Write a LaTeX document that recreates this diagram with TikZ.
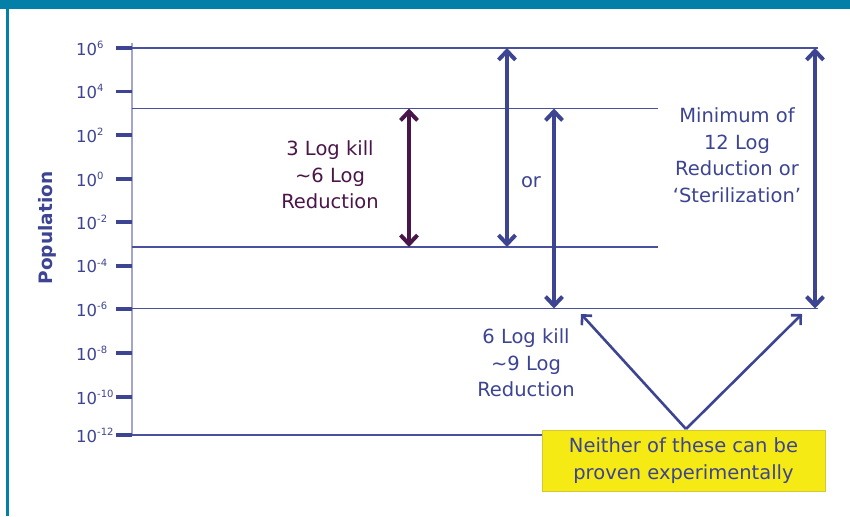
\documentclass[tikz,border=0pt]{standalone}
\usepackage{fontspec}
\setmainfont{DejaVu Sans}
\usetikzlibrary{arrows.meta,calc}
\definecolor{teal1}{HTML}{0480A8}
\definecolor{bl}{HTML}{3D4491}
\definecolor{bline}{HTML}{4B509C}
\definecolor{axisc}{HTML}{A3A5CF}
\definecolor{purp}{HTML}{4A1548}
\definecolor{yel}{HTML}{F5EA14}
\begin{document}
\begin{tikzpicture}[x=1pt,y=-1pt,
  level/.style={draw=bline,line width=1.1pt},
  tick/.style={draw=bl,line width=3.4pt},
  ticklab/.style={anchor=west,inner sep=0pt,text=bl,font=\fontsize{16.5}{18}\selectfont},
  bigarrow/.style={line width=4pt,{Straight Barb[length=9pt,width=17pt]}-{Straight Barb[length=9pt,width=17pt]}},
  diagarrow/.style={draw=bl,line width=2.6pt,-{Straight Barb[length=7pt,width=14pt]}},
  lab/.style={align=center,inner sep=0pt,font=\fontsize{19.5}{26.5}\selectfont}
]
\useasboundingbox (0,0) rectangle (850,516);
% frame
\fill[teal1] (0,0) rectangle (850,9);
\draw[teal1,line width=2.6pt] (7.3,9) -- (7.3,516);

% axis
\coordinate (atop) at (132,43);
\coordinate (abot) at (132,435);
\draw[axisc,line width=2pt] (atop) -- (abot);
\foreach \e/\yy in {6/48,4/91.5,2/135,0/179,-2/222,-4/266,-6/309,-8/353,-10/397,-12/435}{
  \draw[tick] (116,\yy) -- (132,\yy);
  \node[ticklab] (t\e) at (76,\yy) {10\raisebox{0.42em}{\fontsize{10}{11}\selectfont\e}};
}
\node[rotate=90,text=bl,font=\fontsize{18.5}{20}\selectfont\bfseries] (poplab) at (47,228) {Population};

% levels
\coordinate (l6a) at (132,48);   \coordinate (l6b) at (818,48);
\coordinate (l3a) at (132,108.5); \coordinate (l3b) at (658,108.5);
\coordinate (lma) at (132,247);  \coordinate (lmb) at (658,247);
\coordinate (l9a) at (132,308.5); \coordinate (l9b) at (818,308.5);
\draw[level] (l6a) -- (l6b);
\draw[level] (l3a) -- (l3b);
\draw[level] (lma) -- (lmb);
\draw[level] (l9a) -- (l9b);

% yellow box
\node[fill=yel,draw=yel!70!gray,line width=0.4pt,minimum width=283pt,minimum height=61pt,lab,text=bl] (box) at (683.5,460.5) {Neither of these can be\\proven experimentally};
\draw[level] (abot) -- (box.west |- abot);

% arrows
\coordinate (p1) at (409,108.5); \coordinate (p2) at (409,247);
\coordinate (b1) at (507,48);    \coordinate (b2) at (507,247);
\coordinate (c1) at (554,108.5); \coordinate (c2) at (554,308.5);
\coordinate (d1) at (815,48);    \coordinate (d2) at (815,308.5);
\draw[bigarrow,draw=purp] (p1) -- (p2);
\draw[bigarrow,draw=bl] (b1) -- (b2);
\draw[bigarrow,draw=bl] (c1) -- (c2);
\draw[bigarrow,draw=bl] (d1) -- (d2);

% labels
\node[lab,text=purp] (lab3) at (330,175) {3 Log kill\\\textasciitilde6 Log\\Reduction};
\node[lab,text=bl] (labor) at (531,182) {or};
\node[lab,text=bl] (lab12) at (737,155) {Minimum of\\12 Log\\Reduction or\\‘Sterilization’};
\node[lab,text=bl] (lab6) at (526,363) {6 Log kill\\\textasciitilde9 Log\\Reduction};

% V arrows
\coordinate (apex) at (686,429);
\coordinate (vl) at (581,314);
\coordinate (vr) at (802,314);
\draw[diagarrow] (apex) -- (vl);
\draw[diagarrow] (apex) -- (vr);
\end{tikzpicture}
\end{document}
